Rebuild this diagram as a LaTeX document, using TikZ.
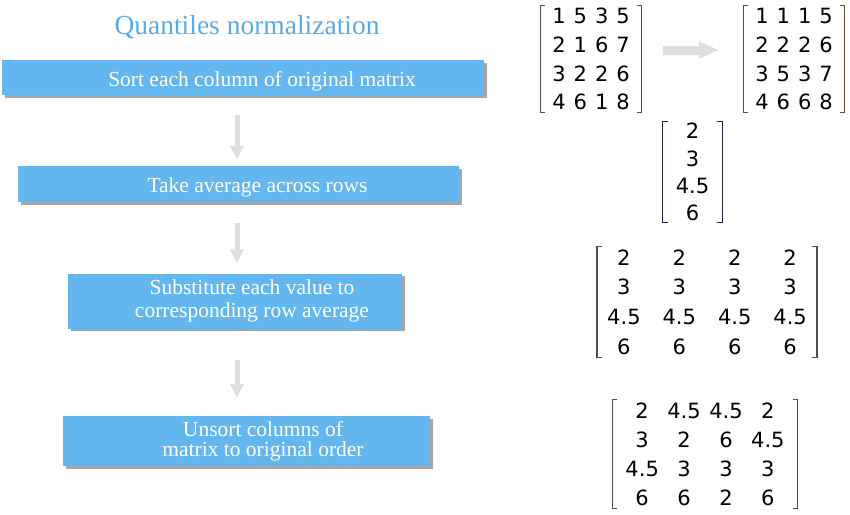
\documentclass[tikz,border=0pt]{standalone}
\usepackage{fontspec}
\setmainfont{Liberation Serif}
\newfontfamily\matfont{DejaVu Sans}
\usetikzlibrary{arrows.meta,matrix,shadows}

\definecolor{stepblue}{RGB}{99,183,238}
\definecolor{titleblue}{RGB}{90,170,230}
\definecolor{flowgray}{RGB}{222,222,222}
\definecolor{brkgray}{RGB}{80,80,80}
\definecolor{brkbrown}{RGB}{100,75,45}
\definecolor{brknavy}{RGB}{30,30,80}

\tikzset{
  stepbox/.style={fill=stepblue, text=white, align=center, inner sep=0pt,
    font=\fontsize{21.5}{23}\selectfont,
    drop shadow={shadow xshift=2.5pt, shadow yshift=-2.5pt, fill=black, opacity=0.35}},
  flow/.style={draw=flowgray, line width=5pt, -{Triangle[width=13pt,length=14pt]}},
  bigflow/.style={draw=flowgray, line width=9pt, -{Triangle[width=16pt,length=20pt]}},
  mat/.style={matrix of nodes, inner sep=0pt,
    nodes={font=\matfont\fontsize{21}{24}\selectfont, inner sep=0pt, text height=15.3pt, text depth=0pt}},
  brk/.style={line width=1.1pt},
}

% brackets round a matrix: name, side pad, left colour, right colour
\newcommand\matbrackets[4]{%
  \draw[brk,#3] ([xshift=-#2+5pt,yshift=-4pt]#1.north west) -- ++(-5pt,0)
    -- ([xshift=-#2,yshift=4pt]#1.south west) -- ++(5pt,0);
  \draw[brk,#4] ([xshift=#2-5pt,yshift=-4pt]#1.north east) -- ++(5pt,0)
    -- ([xshift=#2,yshift=4pt]#1.south east) -- ++(-5pt,0);
}

\begin{document}
\begin{tikzpicture}[x=1pt,y=-1pt]
\useasboundingbox (0,0) rectangle (850,514);

% left column: the steps
\node[text=titleblue, font=\fontsize{27.5}{30}\selectfont] (title) at (247,27) {Quantiles normalization};
\node[stepbox, minimum width=482pt, minimum height=35pt, text height=22pt, text depth=5pt] (sort) at (243,77.5) {\hspace*{38pt}Sort each column of original matrix};
\node[stepbox, minimum width=441pt, minimum height=36pt, text height=22pt, text depth=5pt] (avg) at (238.5,184) {\hspace*{38pt}Take average across rows};
\node[stepbox, minimum width=334pt, minimum height=55pt] (subst) at (235,301) {\hspace*{34pt}Substitute each value to\\\hspace*{34pt}corresponding row average};
\node[stepbox, minimum width=367pt, minimum height=50pt, font=\fontsize{21.5}{20}\selectfont] (unsort) at (246.5,441) {\hspace*{33pt}Unsort columns of\\\hspace*{33pt}matrix to original order};

\coordinate (axis) at (237,0);
\draw[flow, shorten <=20pt, shorten >=6pt] (sort.south -| axis) -- (avg.north -| axis);
\draw[flow, shorten <=21pt, shorten >=10pt] (avg.south -| axis) -- (subst.north -| axis);
\draw[flow, shorten <=31pt, shorten >=18pt] (subst.south -| axis) -- (unsort.north -| axis);

% right column: the matrices
\matrix (orig) [mat, column sep=8pt, nodes={minimum height=28.7pt}] at (591,59) {
  1 & 5 & 3 & 5\\ 2 & 1 & 6 & 7\\ 3 & 2 & 2 & 6\\ 4 & 6 & 1 & 8\\};
\matrix (sorted) [mat, column sep=8pt, nodes={minimum height=28.7pt}] at (794,59) {
  1 & 1 & 1 & 5\\ 2 & 2 & 2 & 6\\ 3 & 5 & 3 & 7\\ 4 & 6 & 6 & 8\\};
\matrix (means) [mat, nodes={minimum height=27.3pt}] at (692.5,172) {
  2\\ 3\\ 4.5\\ 6\\};
\matrix (subbed) [mat, column sep=22pt, nodes={minimum height=29.7pt}] at (707,302) {
  2 & 2 & 2 & 2\\ 3 & 3 & 3 & 3\\ 4.5 & 4.5 & 4.5 & 4.5\\ 6 & 6 & 6 & 6\\};
\matrix (result) [mat, column sep=8.5pt, nodes={minimum height=29pt}] at (705,454) {
  2 & 4.5 & 4.5 & 2\\ 3 & 2 & 6 & 4.5\\ 4.5 & 3 & 3 & 3\\ 6 & 6 & 2 & 6\\};

\matbrackets{orig}{12pt}{brkgray}{brkbrown}
\matbrackets{sorted}{12pt}{brkgray}{brkbrown}
\matbrackets{means}{12.8pt}{brknavy}{brknavy}
\matbrackets{subbed}{10pt}{brkgray}{brkgray}
\matbrackets{result}{13pt}{brkgray}{brkgray}

\draw[bigflow, shorten <=33pt, shorten >=36pt] ([yshift=9pt]orig.east) -- ([yshift=9pt]sorted.west);
\end{tikzpicture}
\end{document}
